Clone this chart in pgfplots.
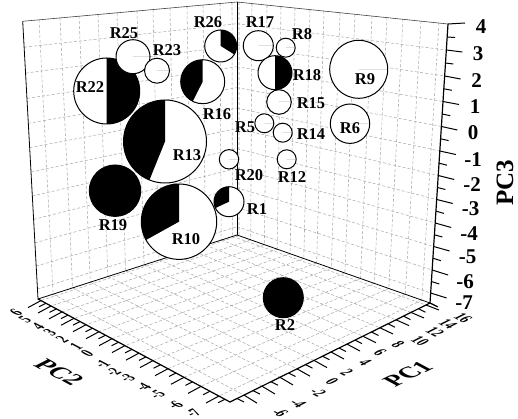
\documentclass[border=0pt]{standalone}
\usepackage{fontspec}
\setmainfont{Liberation Serif}
\usepackage{pgfplots}
\usepackage{pgfplotstable}
\pgfplotsset{compat=1.18}

% bubbles: pixel position on the projected box, radius, black sector
\pgfplotstableread{
name x y r a0 a1
R22 106.7 91 33 -90 90
R25 133 56.7 17 0 0
R23 157 70.7 12.5 0 0
R26 220.7 46 16 -32 90
R16 202.7 81.7 22 90 243
R13 165 141.5 41.5 90 248
R19 115 190.7 25.7 0 360
R10 179 221.7 37.7 90 209
R1 229 201.7 15 90 205
R20 229 159.3 9.7 0 0
R17 258.3 45.7 15 0 0
R8 285.7 47.7 9.5 0 0
R18 275 72.7 17 -90 90
R9 358.7 69.3 29 0 0
R15 279 102 12.3 0 0
R6 350 123.7 19.7 0 0
R5 264.3 123.3 9.5 0 0
R14 282.7 132.7 9.5 0 0
R12 286.7 159.3 9.5 0 0
R2 283.3 297.7 20 0 360
}\bubbles

\pgfdeclareplotmark{bub}{%
  \pgfsetlinewidth{1pt}%
  \pgfsetstrokecolor{black}%
  \pgfsetfillcolor{white}%
  \pgfpathcircle{\pgfpointorigin}{\brad pt}%
  \pgfusepath{fill,stroke}%
  \pgfsetfillcolor{black}%
  \pgfpathmoveto{\pgfpointorigin}%
  \pgfpathlineto{\pgfpointpolar{\astart}{\brad pt}}%
  \pgfpatharc{\astart}{\aend}{\brad pt}%
  \pgfpathclose
  \pgfusepath{fill}%
}

\tikzset{griddash/.style={draw=gray!65,line width=.55pt,dash pattern=on 3pt off 2pt}}
\newcommand{\rlab}[3]{\node[font=\fontsize{16.5}{16.5}\selectfont\bfseries,inner sep=0pt] at (axis cs:#1,#2) {#3};}
\newcommand{\zlab}[3]{\node[font=\fontsize{21}{21}\selectfont\bfseries,inner sep=0pt] at (axis cs:#1,#2) {#3};}
% text lying on the floor plane
\newcommand{\floortext}[7]{\node[transform shape,cm={#1,#2,#3,#4,(axis cs:#5,#6)},inner sep=0pt,font=\fontsize{14}{14}\selectfont\bfseries] at (0,0) {#7};}
\newcommand{\labA}[3]{\floortext{.80}{-.42}{1.07}{.54}{#1}{#2}{#3}}
\newcommand{\labB}[3]{\floortext{.80}{.40}{-1.05}{.56}{#1}{#2}{#3}}

\begin{document}
\begin{tikzpicture}
\begin{axis}[
    scale only axis,
    width=518pt,height=419pt,
    xmin=0,xmax=518,ymin=0,ymax=419,
    y dir=reverse,
    hide axis,
    clip=false,
    clip mode=individual,
    unbounded coords=jump,
]
    % page frame
    \addplot[white,line width=0pt] coordinates {(0,0)(518,0)(518,419)(0,419)(0,0)};

    % left wall grid
    \addplot[griddash] coordinates {
        (39,19.8)(53.1,294.1) (nan,nan) (60,17.9)(72.6,287.9) (nan,nan) (79,16.2)(90.3,282.2) (nan,nan)
        (98,14.5)(107.9,276.5) (nan,nan) (117,12.8)(125.6,270.8) (nan,nan) (137,11)(144.1,264.9) (nan,nan)
        (153,9.6)(159,259.7) (nan,nan) (170,8)(174.8,254.9) (nan,nan) (187,6.5)(190.6,249.9) (nan,nan)
        (203,5.1)(205.4,245.2) (nan,nan) (220,3.5)(221.2,240.1) (nan,nan) (232,2.5)(232.4,236.4) (nan,nan)
        (24.1,47.2)(237,23.7) (nan,nan) (25.6,73.1)(237,45.4) (nan,nan) (27,98.4)(237,66.7) (nan,nan)
        (28.3,123.3)(237,87.6) (nan,nan) (29.7,147.7)(237,108.1) (nan,nan) (31,172.1)(237,128.5) (nan,nan)
        (32.3,196)(237,148.6) (nan,nan) (33.6,219.4)(237,168.2) (nan,nan) (34.9,242.8)(237,187.8) (nan,nan)
        (36.2,266.1)(237,207.4) (nan,nan) (37.4,289.1)(237,226.7)
    };
    % right wall grid
    \addplot[griddash] coordinates {
        (239,2.2)(239,235.7) (nan,nan) (252,3.6)(250.7,239.8) (nan,nan) (267,5.1)(264.4,244.7) (nan,nan)
        (281,6.6)(277.2,249.2) (nan,nan) (295,8)(290.1,253.7) (nan,nan) (310,9.6)(303.8,258.5) (nan,nan)
        (324,11.1)(316.6,263) (nan,nan) (340,12.7)(331.2,268.2) (nan,nan) (355,14.3)(344.9,273) (nan,nan)
        (372,16.1)(360.5,278.5) (nan,nan) (387,17.6)(374.2,283.3) (nan,nan) (403,19.3)(388.8,288.5) (nan,nan)
        (421,21.2)(405.3,294.3) (nan,nan) (439,23.1)(421.8,300.1) (nan,nan)
        (237,23.7)(446.3,50) (nan,nan) (237,45.4)(444.6,76) (nan,nan) (237,66.7)(443,101.5) (nan,nan)
        (237,87.6)(441.4,126.5) (nan,nan) (237,108.1)(439.8,151) (nan,nan) (237,128.5)(438.2,175.5) (nan,nan)
        (237,148.6)(436.7,199.5) (nan,nan) (237,168.2)(435.2,223) (nan,nan) (237,187.8)(433.6,246.5) (nan,nan)
        (237,207.4)(432.1,270) (nan,nan) (237,226.7)(430.6,293)
    };
    % floor grid
    \addplot[griddash] coordinates {
        (53.1,294.1)(244,395.1) (nan,nan) (72.6,287.9)(262,386.2) (nan,nan) (90.3,282.2)(280,377.3) (nan,nan)
        (107.9,276.5)(297,368.8) (nan,nan) (125.6,270.8)(314,360.4) (nan,nan) (144.1,264.9)(331,352) (nan,nan)
        (159,259.7)(347,344.1) (nan,nan) (174.8,254.9)(363,336.2) (nan,nan) (190.6,249.9)(380,327.8) (nan,nan)
        (205.4,245.2)(396,319.8) (nan,nan) (221.2,240.1)(411,312.4) (nan,nan) (232.4,236.4)(426,305) (nan,nan)
        (239,235.7)(41,300.6) (nan,nan) (250.7,239.8)(51,306) (nan,nan) (264.4,244.7)(62,311.9) (nan,nan)
        (277.2,249.2)(74,318.3) (nan,nan) (290.1,253.7)(86,324.7) (nan,nan) (303.8,258.5)(99,331.7) (nan,nan)
        (316.6,263)(112,338.7) (nan,nan) (331.2,268.2)(125,345.6) (nan,nan) (344.9,273)(139,353.1) (nan,nan)
        (360.5,278.5)(153,360.6) (nan,nan) (374.2,283.3)(168,368.7) (nan,nan) (388.8,288.5)(184,377.3) (nan,nan)
        (405.3,294.3)(201,386.4) (nan,nan) (421.8,300.1)(219,396)
    };

    % box edges
    \addplot[black!75,line width=.6pt] coordinates {(22.7,21.3)(237,2)(448,24)};
    \addplot[black,line width=.8pt] coordinates {(22.7,21.3)(38,299)(237,235)(430,303)};
    \addplot[black,line width=.8pt] coordinates {(237,2)(237,235)};
    \addplot[black,line width=1.2pt] coordinates {(448,24)(430,303)};
    \addplot[black,line width=1.2pt] coordinates {(38,299)(230,402)(430,303)};

    % PC1 ticks
    \addplot[black,line width=1pt] coordinates {
        (244,395.1)(257,403.1) (nan,nan) (262,386.2)(275,394) (nan,nan) (280,377.3)(293,385) (nan,nan)
        (297,368.8)(310,376.2) (nan,nan) (314,360.4)(327,367.6) (nan,nan) (331,352)(344,359) (nan,nan)
        (347,344.1)(360,351) (nan,nan) (363,336.2)(376,342.7) (nan,nan) (380,327.8)(393,334) (nan,nan)
        (396,319.8)(409,325.6) (nan,nan) (411,312.4)(424,318) (nan,nan) (426,305)(439,310) (nan,nan)
        (237,398.5)(244,402) (nan,nan) (253,390.6)(260,394.1) (nan,nan) (271,381.7)(278,385.2) (nan,nan)
        (288.5,373)(295.5,376.5) (nan,nan) (305.5,364.6)(312.5,368.1) (nan,nan) (322.5,356.2)(329.5,359.7) (nan,nan)
        (339,348)(346,351.5) (nan,nan) (355,340.1)(362,343.6) (nan,nan) (371.5,332)(378.5,335.5) (nan,nan)
        (388,323.8)(395,327.3) (nan,nan) (403.5,316.1)(410.5,319.6) (nan,nan) (418.5,308.7)(425.5,312.2) (nan,nan)
        (430,303)(437,306.5)
    };
    % PC2 ticks
    \addplot[black,line width=1pt] coordinates {
        (41,300.6)(28,307.6) (nan,nan) (51,306)(38,313) (nan,nan) (62,311.9)(49,318.9) (nan,nan)
        (74,318.3)(61,325.3) (nan,nan) (86,324.7)(73,331.7) (nan,nan) (99,331.7)(86,338.7) (nan,nan)
        (112,338.7)(99,345.7) (nan,nan) (125,345.6)(112,352.6) (nan,nan) (139,353.1)(126,360.1) (nan,nan)
        (153,360.6)(140,367.6) (nan,nan) (168,368.7)(155,375.7) (nan,nan) (184,377.3)(171,384.3) (nan,nan)
        (201,386.4)(188,393.4) (nan,nan) (219,396)(206,403) (nan,nan)
        (46,303.3)(39,306.8) (nan,nan) (56.5,308.9)(49.5,312.4) (nan,nan) (68,315.1)(61,318.6) (nan,nan)
        (80,321.6)(73,325.1) (nan,nan) (92.5,328.3)(85.5,331.8) (nan,nan) (105.5,335.3)(98.5,338.8) (nan,nan)
        (118.5,342.2)(111.5,345.7) (nan,nan) (132,349.4)(125,352.9) (nan,nan) (146,356.9)(139,360.4) (nan,nan)
        (160.5,364.7)(153.5,368.2) (nan,nan) (176,373)(169,376.5) (nan,nan) (192.5,381.9)(185.5,385.4) (nan,nan)
        (210,391.2)(203,394.7) (nan,nan) (225,399.2)(218,402.7)
    };
    % PC3 ticks
    \addplot[black,line width=1pt] coordinates {
        (448,24)(465,23) (nan,nan) (446.3,50)(462.3,52) (nan,nan) (444.6,76)(460.6,79) (nan,nan)
        (443,101.5)(459,104.5) (nan,nan) (441.4,126.5)(457.4,130) (nan,nan) (439.8,151)(455.8,154.5) (nan,nan)
        (438.2,175.5)(454.2,179.5) (nan,nan) (436.7,199.5)(452.7,203.5) (nan,nan) (435.2,223)(451.2,227.5) (nan,nan)
        (433.6,246.5)(449.6,251) (nan,nan) (432.1,270)(448.1,275) (nan,nan) (430.6,293)(446.6,298) (nan,nan)
        (447.1,37)(455.1,37.5) (nan,nan) (445.4,63)(453.4,64) (nan,nan) (443.8,88.8)(451.8,90.3) (nan,nan)
        (442.2,114)(450.2,115.7) (nan,nan) (440.6,138.8)(448.6,140.6) (nan,nan) (439,163.2)(447,165.2) (nan,nan)
        (437.4,187.5)(445.4,189.5) (nan,nan) (436,211.2)(444,213.4) (nan,nan) (434.4,234.8)(442.4,237) (nan,nan)
        (432.9,258.2)(440.9,260.7) (nan,nan) (431.3,281.5)(439.3,284) (nan,nan) (430,303)(438,307)
    };

    % bubbles
    \addplot[
        scatter,only marks,mark=bub,
        point meta=\thisrow{r},
        visualization depends on={\thisrow{r} \as \brad},
        visualization depends on={\thisrow{a0} \as \astart},
        visualization depends on={\thisrow{a1} \as \aend},
    ] table[x=x,y=y] {\bubbles};

    % bubble names
    \rlab{124}{33}{R25} \rlab{167}{50}{R23} \rlab{208}{22}{R26} \rlab{90}{87}{R22}
    \rlab{217}{114}{R16} \rlab{187}{155}{R13} \rlab{113}{225}{R19} \rlab{186}{239}{R10}
    \rlab{257}{209}{R1} \rlab{249}{175}{R20} \rlab{260}{22}{R17} \rlab{302}{34}{R8}
    \rlab{307}{75}{R18} \rlab{365}{79}{R9} \rlab{311}{103}{R15} \rlab{350}{128}{R6}
    \rlab{245}{127}{R5} \rlab{311}{134}{R14} \rlab{292}{177}{R12} \rlab{285}{325}{R2}

    % PC3 numbers
    \zlab{481}{27}{4} \zlab{478}{54}{3} \zlab{476.5}{81}{2} \zlab{475}{107}{1}
    \zlab{473}{133}{0} \zlab{473}{160}{-1} \zlab{472}{185}{-2} \zlab{470.5}{209}{-3}
    \zlab{469}{234}{-4} \zlab{467.5}{257}{-5} \zlab{465}{282}{-6} \zlab{464}{303}{-7}

    % PC1 numbers
    \labA{280}{413}{-6} \labA{298}{403}{-4} \labA{318}{392}{-2} \labA{332}{381}{0}
    \labA{347}{372}{2} \labA{365}{362}{4} \labA{380}{353}{6} \labA{398}{344}{8}
    \labA{420}{341}{10} \labA{435}{332}{12} \labA{448}{324}{14} \labA{463}{318}{16}

    % PC2 numbers
    \labB{16}{313}{6} \labB{25}{320}{5} \labB{38}{327}{4} \labB{50}{333}{3}
    \labB{62}{340}{2} \labB{76}{347}{1} \labB{87}{354}{0} \labB{102}{364}{-1}
    \labB{113}{372}{-2} \labB{127}{378}{-3} \labB{143}{387}{-4} \labB{157}{395}{-5}
    \labB{175}{405}{-6} \labB{193}{413}{-7}

    % axis titles
    \node[transform shape,cm={.98,.48,-.97,.52,(axis cs:408,374)},inner sep=0pt,
        font=\fontsize{22}{22}\selectfont\bfseries] at (0,0) {PC1};
    \node[transform shape,cm={.97,-.52,.98,.50,(axis cs:59,372)},inner sep=0pt,
        font=\fontsize{22}{22}\selectfont\bfseries] at (0,0) {PC2};
    \node[rotate=90,inner sep=0pt,font=\fontsize{25}{25}\selectfont\bfseries]
        at (axis cs:505,183) {PC3};
\end{axis}
\end{tikzpicture}
\end{document}
